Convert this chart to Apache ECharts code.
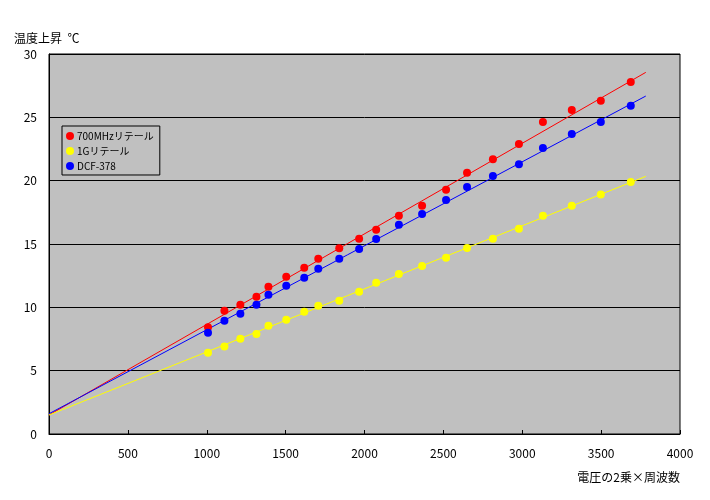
<!DOCTYPE html>
<html><head><meta charset="utf-8">
<script src="https://cdn.jsdelivr.net/npm/echarts@6/dist/echarts.min.js"></script>
<style>html,body{margin:0;padding:0;background:#fff;}#c{width:710px;height:500px;}</style>
</head><body><div id="c"></div>
<script>
const seriesNames = ['700MHzリテール', '1Gリテール', 'DCF-378'];
const xValues = [1008, 1112, 1213, 1315, 1391, 1504, 1618, 1707, 1840, 1966, 2074, 2218, 2365, 2517, 2650, 2814, 2979, 3131, 3314, 3498, 3688];
const red700 = [8.42, 9.73, 10.2, 10.84, 11.63, 12.42, 13.13, 13.84, 14.66, 15.42, 16.13, 17.23, 18.02, 19.29, 20.63, 21.7, 22.9, 24.63, 25.58, 26.3, 27.79];
const yellow1G = [6.42, 6.9, 7.52, 7.9, 8.55, 9.02, 9.66, 10.13, 10.52, 11.23, 11.95, 12.63, 13.26, 13.92, 14.68, 15.42, 16.21, 17.24, 18.02, 18.9, 19.9];
const blueDCF = [8.0, 8.95, 9.5, 10.2, 11.0, 11.7, 12.34, 13.05, 13.84, 14.6, 15.39, 16.52, 17.37, 18.47, 19.5, 20.37, 21.3, 22.58, 23.68, 24.63, 25.92];
const trendRed = [[0, 1.5], [3783, 28.55]];
const trendYellow = [[0, 1.5], [3783, 20.34]];
const trendBlue = [[0, 1.6], [3783, 26.68]];
const colors = ['#FF0000', '#FFFF00', '#0000FF'];
const yAxisTitle = '温度上昇  ℃';
const xAxisTitle = '電圧の2乗×周波数';

const pts = ys => xValues.map((x, i) => [x, ys[i]]);
const font = '"Noto Sans CJK JP", sans-serif';
const chart = echarts.init(document.getElementById('c'));
const trends = [trendRed, trendYellow, trendBlue];
const vals = [red700, yellow1G, blueDCF];
const series = [];
vals.forEach((v, i) => {
  series.push({
    name: seriesNames[i], type: 'scatter', data: pts(v), symbol: 'circle', symbolSize: 8,
    itemStyle: { color: colors[i], opacity: 1 }, z: 3
  });
});
trends.forEach((t, i) => {
  series.push({
    name: 'trend' + i, type: 'line', data: t, symbol: 'none', silent: true,
    lineStyle: { color: colors[i], width: 1 }, z: 2
  });
});
chart.setOption({
  animation: false,
  backgroundColor: '#FFFFFF',
  textStyle: { fontFamily: font },
  grid: { left: 49, right: 30, top: 54, bottom: 66, show: true, backgroundColor: '#C0C0C0', borderColor: '#000', borderWidth: 1 },
  legend: {
    data: seriesNames, orient: 'vertical', left: 62, top: 126,
    backgroundColor: '#C0C0C0', borderColor: '#000', borderWidth: 1,
    padding: [5, 6, 4, 4], itemGap: 5, itemWidth: 8, itemHeight: 8, icon: 'circle',
    textStyle: { fontSize: 10, color: '#000', fontFamily: font, padding: [0, 0, 0, -2] }
  },
  xAxis: {
    type: 'value', min: 0, max: 4000, interval: 500,
    axisLine: { show: true, lineStyle: { color: '#000' } },
    axisTick: { show: true, inside: true, length: 4, lineStyle: { color: '#000' } },
    splitLine: { show: false },
    axisLabel: { color: '#000', fontSize: 12, margin: 13, fontFamily: font, formatter: v => String(v) }
  },
  yAxis: {
    type: 'value', min: 0, max: 30, interval: 5,
    axisLine: { show: true, lineStyle: { color: '#000' } },
    axisTick: { show: false },
    splitLine: { show: true, lineStyle: { color: '#000', width: 1 } },
    axisLabel: { color: '#000', fontSize: 12, margin: 12, fontFamily: font, formatter: v => String(v) }
  },
  graphic: [
    { type: 'text', left: 14, top: 32, style: { text: yAxisTitle, fontSize: 12, fill: '#000', fontFamily: font } },
    { type: 'text', right: 30, top: 471, style: { text: xAxisTitle, fontSize: 12, fill: '#000', fontFamily: font } }
  ],
  series: series
});
</script></body></html>
